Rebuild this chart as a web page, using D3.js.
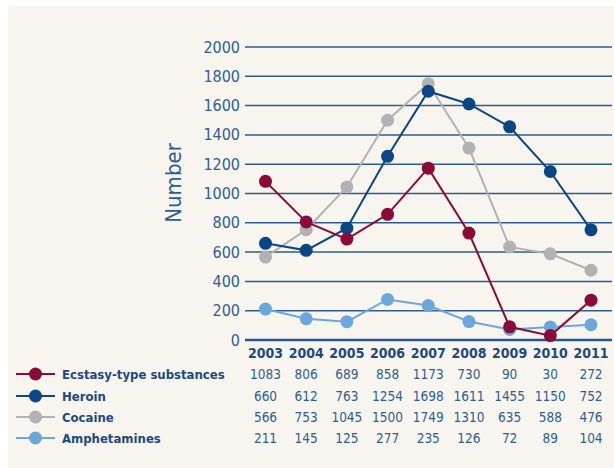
<!DOCTYPE html>
<html>
<head>
<meta charset="utf-8">
<script src="https://cdn.jsdelivr.net/npm/d3@7"></script>
<style>
  body { margin: 0; background: #fff; }
  svg { display: block; }
</style>
</head>
<body>
<div id="chart"></div>
<script>
// data
var years = [2003, 2004, 2005, 2006, 2007, 2008, 2009, 2010, 2011];
var ecstasy = [1083, 806, 689, 858, 1173, 730, 90, 30, 272];
var heroin = [660, 612, 763, 1254, 1698, 1611, 1455, 1150, 752];
var cocaine = [566, 753, 1045, 1500, 1749, 1310, 635, 588, 476];
var amphetamines = [211, 145, 125, 277, 235, 126, 72, 89, 104];
var seriesNames = ["Ecstasy-type substances", "Heroin", "Cocaine", "Amphetamines"];
var yTicks = [0, 200, 400, 600, 800, 1000, 1200, 1400, 1600, 1800, 2000];

var colors = {
  "Ecstasy-type substances": "#8a0a3a",
  "Heroin": "#0b4585",
  "Cocaine": "#b2b2b4",
  "Amphetamines": "#6ca7dc"
};
var values = {
  "Ecstasy-type substances": ecstasy,
  "Heroin": heroin,
  "Cocaine": cocaine,
  "Amphetamines": amphetamines
};

var W = 614, H = 468;
var font = "'DejaVu Sans Condensed', 'DejaVu Sans', sans-serif";
var textBlue = "#2b5e98";
var navy = "#1c4a80";

var svg = d3.select("#chart")
  .append("svg")
  .attr("width", W)
  .attr("height", H);

// cream panel
svg.append("rect")
  .attr("x", 8).attr("y", 6)
  .attr("width", W - 8).attr("height", H - 6)
  .attr("fill", "#f8f5ef");

var x = d3.scalePoint()
  .domain(years)
  .range([265.5, 591]);

var y = d3.scaleLinear()
  .domain([0, 2000])
  .range([340, 47]);

// gridlines
svg.append("g")
  .selectAll("line")
  .data(yTicks.filter(function (d) { return d > 0; }))
  .join("line")
  .attr("x1", 245).attr("x2", 612)
  .attr("y1", function (d) { return y(d); })
  .attr("y2", function (d) { return y(d); })
  .attr("stroke", "#2a5c93")
  .attr("stroke-width", 1.5);

// zero line
svg.append("line")
  .attr("x1", 245).attr("x2", 612)
  .attr("y1", y(0)).attr("y2", y(0))
  .attr("stroke", "#24568f")
  .attr("stroke-width", 2.5);

// y tick labels
svg.append("g")
  .selectAll("text")
  .data(yTicks)
  .join("text")
  .attr("x", 240)
  .attr("y", function (d) { return y(d) + 5.5; })
  .attr("text-anchor", "end")
  .attr("font-family", font)
  .attr("font-size", 16)
  .attr("fill", textBlue)
  .text(function (d) { return d; });

// axis title
svg.append("text")
  .attr("transform", "translate(181,183) rotate(-90)")
  .attr("text-anchor", "middle")
  .attr("font-family", font)
  .attr("font-size", 22)
  .attr("fill", textBlue)
  .text("Number");

// year labels
svg.append("g")
  .selectAll("text")
  .data(years)
  .join("text")
  .attr("x", function (d) { return x(d); })
  .attr("y", 358)
  .attr("text-anchor", "middle")
  .attr("font-family", font)
  .attr("font-weight", "bold")
  .attr("font-size", 14)
  .attr("fill", navy)
  .text(function (d) { return d; });

// lines, drawn bottom to top
var drawOrder = ["Cocaine", "Amphetamines", "Heroin", "Ecstasy-type substances"];
var line = d3.line()
  .x(function (d, i) { return x(years[i]); })
  .y(function (d) { return y(d); });

drawOrder.forEach(function (name) {
  var g = svg.append("g");
  g.append("path")
    .datum(values[name])
    .attr("fill", "none")
    .attr("stroke", colors[name])
    .attr("stroke-width", 2)
    .attr("d", line);
  g.selectAll("circle")
    .data(values[name])
    .join("circle")
    .attr("cx", function (d, i) { return x(years[i]); })
    .attr("cy", function (d) { return y(d); })
    .attr("r", 6.5)
    .attr("fill", colors[name]);
});

// legend + data table
var rowY = [374, 396, 417, 438];
seriesNames.forEach(function (name, r) {
  var cy = rowY[r];
  svg.append("line")
    .attr("x1", 16).attr("x2", 55)
    .attr("y1", cy).attr("y2", cy)
    .attr("stroke", colors[name])
    .attr("stroke-width", 2);
  svg.append("circle")
    .attr("cx", 35.5).attr("cy", cy)
    .attr("r", 6.5)
    .attr("fill", colors[name]);
  svg.append("text")
    .attr("x", 62).attr("y", cy + 5)
    .attr("font-family", font)
    .attr("font-weight", "bold")
    .attr("font-size", 13)
    .attr("fill", navy)
    .text(name);
  svg.append("g")
    .selectAll("text")
    .data(values[name])
    .join("text")
    .attr("x", function (d, i) { return x(years[i]); })
    .attr("y", cy + 5)
    .attr("text-anchor", "middle")
    .attr("font-family", font)
    .attr("font-size", 13.5)
    .attr("fill", textBlue)
    .text(function (d) { return d; });
});
</script>
</body>
</html>
